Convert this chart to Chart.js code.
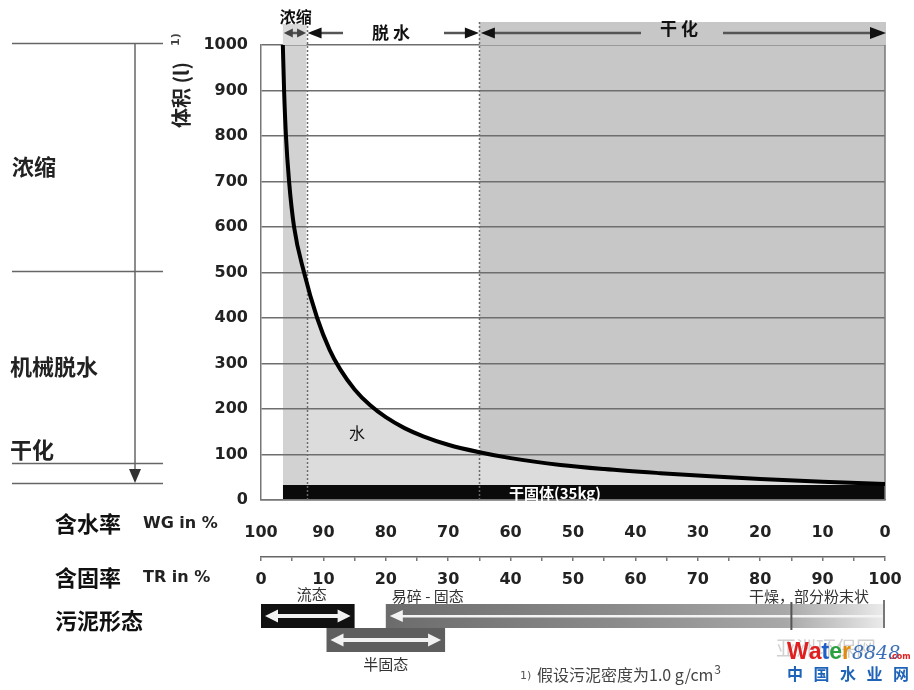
<!DOCTYPE html>
<html lang="zh">
<head>
<meta charset="utf-8">
<title>污泥体积与含水率</title>
<script src="https://cdn.jsdelivr.net/npm/chart.js@4.4.0/dist/chart.umd.min.js"></script>
<style>
  html, body { margin: 0; padding: 0; background: #fff; }
  #wrap { width: 914px; height: 690px; }
</style>
</head>
<body>
<div id="wrap"><canvas id="chart" width="914" height="690"></canvas></div>
<script>
// 含水率 WG(%) 与对应体积 (l)
const wgValues = [96.5, 96.3, 96.0, 95.5, 94.7, 93.1, 91, 89, 87.3, 85, 82.5, 80, 77, 74, 70, 65, 60, 52, 45, 36, 28, 20, 10, 0];
const volumes  = [1000, 900, 800, 700, 600, 500, 400, 330, 287, 243, 208, 182, 158, 140, 121.5, 105, 92, 77, 68, 59, 52, 46, 40, 35];

// 干固体
const solidsLabel = '干固体(35kg)';
const solidsFrom = 96.5, solidsTo = 0, solidsVolume = 33;

// 处理阶段 (WG %)
const stageNames = ['浓缩', '脱 水', '干 化'];
const stageFrom  = [96.5, 92.7, 65];
const stageTo    = [92.7, 65, 0];

// 左侧工艺
const processNames = ['浓缩', '机械脱水', '干化'];
const processMarks = [1000, 500, 77, 33];

// 坐标刻度
const wgTicks = [100, 90, 80, 70, 60, 50, 40, 30, 20, 10, 0];
const trTicks = [0, 10, 20, 30, 40, 50, 60, 70, 80, 90, 100];

// 污泥形态 (TR %)
const stateNames = ['流态', '半固态', '易碎 - 固态', '干燥，部分粉末状'];
const stateFrom  = [0, 10.5, 20, 85];
const stateTo    = [15, 29.5, 100, 100];

const CJK = '"Noto Sans CJK SC", "Noto Sans", sans-serif';
const NUM = '"DejaVu Sans", "Liberation Sans", sans-serif';

function txt(ctx, s, x, y, font, color, align, base) {
  ctx.font = font;
  ctx.fillStyle = color;
  ctx.textAlign = align || 'center';
  ctx.textBaseline = base || 'middle';
  ctx.fillText(s, x, y);
}

// dir: -1 左, 1 右, 2 下
function head(ctx, tx, ty, dir, len, half) {
  ctx.beginPath();
  if (dir === 2) {
    ctx.moveTo(tx, ty); ctx.lineTo(tx - half, ty - len); ctx.lineTo(tx + half, ty - len);
  } else {
    ctx.moveTo(tx, ty); ctx.lineTo(tx - dir * len, ty - half); ctx.lineTo(tx - dir * len, ty + half);
  }
  ctx.closePath();
  ctx.fill();
}

function hline(ctx, x1, x2, y) {
  ctx.beginPath(); ctx.moveTo(x1, y); ctx.lineTo(x2, y); ctx.stroke();
}

const decor = {
  id: 'decor',
  beforeDatasetsDraw(chart) {
    const {ctx, chartArea: a, scales: {x}} = chart;
    ctx.save();
    // 顶部阶段底色
    const x0 = x.getPixelForValue(stageFrom[0]), x1 = x.getPixelForValue(stageTo[0]);
    ctx.fillStyle = '#dadada';
    ctx.fillRect(x0, 24, x1 - x0, a.top - 24);
    const x2 = x.getPixelForValue(stageFrom[2]), x3 = x.getPixelForValue(stageTo[2]);
    ctx.fillStyle = '#c7c7c7';
    ctx.fillRect(x2, 22, x3 - x2 + 1, a.top - 22);
    // 阶段分隔虚线
    ctx.strokeStyle = '#6a6a6a';
    ctx.lineWidth = 1.5;
    ctx.setLineDash([2, 2]);
    [stageTo[0], stageTo[1]].forEach(v => {
      const px = Math.round(x.getPixelForValue(v)) + 0.5;
      ctx.beginPath(); ctx.moveTo(px, 22); ctx.lineTo(px, a.bottom); ctx.stroke();
    });
    ctx.setLineDash([]);
    // 右边框
    ctx.strokeStyle = '#777';
    ctx.beginPath(); ctx.moveTo(a.right, a.top); ctx.lineTo(a.right, a.bottom); ctx.stroke();
    ctx.restore();
  },
  afterDraw(chart) {
    const {ctx, scales: {x, y, x2}} = chart;
    ctx.save();

    // 图内文字
    txt(ctx, '水', x.getPixelForValue(84.6), y.getPixelForValue(147), '16px ' + CJK, '#111');
    txt(ctx, solidsLabel, 555, y.getPixelForValue(solidsVolume / 2) + 1, 'bold 15px ' + CJK, '#fff');

    // 顶部阶段箭头
    ctx.fillStyle = '#444';
    ctx.strokeStyle = '#555';
    ctx.lineWidth = 2.5;
    const hy = 33;
    const p0 = x.getPixelForValue(stageFrom[0]), p1 = x.getPixelForValue(stageTo[0]);
    const p2 = x.getPixelForValue(stageTo[1]), p3 = x.getPixelForValue(stageTo[2]) + 1;
    // 浓缩
    hline(ctx, p0 + 4, p1 - 4, hy);
    head(ctx, p0 + 1, hy, -1, 9, 4.5);
    head(ctx, p1 - 0.5, hy, 1, 9, 4.5);
    txt(ctx, stageNames[0], (p0 + p1) / 2 + 1, 17, 'bold 16px ' + CJK, '#111');
    // 脱水
    const m1 = (p1 + p2) / 2 - 2;
    hline(ctx, p1 + 8, m1 - 48, hy);
    hline(ctx, m1 + 53, p2 - 8, hy);
    head(ctx, p1 + 1, hy, -1, 14, 5.5);
    head(ctx, p2 - 0.5, hy, 1, 14, 5.5);
    txt(ctx, stageNames[1], m1, hy, 'bold 17px ' + CJK, '#111');
    // 干化
    const m2 = 679;
    hline(ctx, p2 + 8, m2 - 38, hy);
    hline(ctx, m2 + 44, p3 - 8, hy);
    head(ctx, p2 + 1.5, hy, -1, 14, 5.5);
    head(ctx, p3, hy, 1, 16, 6);
    txt(ctx, stageNames[2], m2, 29, 'bold 17px ' + CJK, '#111');

    // 体积轴标题
    ctx.save();
    ctx.translate(181, 128);
    ctx.rotate(-Math.PI / 2);
    txt(ctx, '体积 (l)', 0, 0, 'bold 20px ' + CJK, '#222', 'left');
    txt(ctx, '1)', 82, -5, 'bold 11px ' + NUM, '#444', 'left');
    ctx.restore();

    // 左侧工艺区间
    ctx.strokeStyle = '#666';
    ctx.lineWidth = 1.5;
    processMarks.forEach(v => hline(ctx, 12, 163, Math.round(y.getPixelForValue(v)) - 1.5));
    const ay0 = y.getPixelForValue(processMarks[0]) - 2, ay1 = y.getPixelForValue(processMarks[3]) - 2;
    ctx.beginPath(); ctx.moveTo(135, ay0); ctx.lineTo(135, ay1 - 10); ctx.stroke();
    ctx.fillStyle = '#333';
    head(ctx, 135, ay1, 2, 14, 6);
    txt(ctx, processNames[0], 12, 167, 'bold 22px ' + CJK, '#222', 'left');
    txt(ctx, processNames[1], 10, 367, 'bold 22px ' + CJK, '#222', 'left');
    txt(ctx, processNames[2], 10, 450, 'bold 22px ' + CJK, '#222', 'left');

    // 轴名称
    txt(ctx, '含水率', 55, 524, 'bold 22px ' + CJK, '#111', 'left');
    txt(ctx, 'WG in %', 143, 524, 'bold 16px ' + NUM, '#222', 'left');
    txt(ctx, '含固率', 55, 578, 'bold 22px ' + CJK, '#111', 'left');
    txt(ctx, 'TR in %', 143, 578, 'bold 16px ' + NUM, '#222', 'left');
    txt(ctx, '污泥形态', 55, 621, 'bold 22px ' + CJK, '#111', 'left');

    // 污泥形态条
    const sx = i => [x2.getPixelForValue(stateFrom[i]), x2.getPixelForValue(stateTo[i])];
    const rowTop = [604, 628, 604, 604], rowH = 24;
    // 易碎 - 固态 渐变条
    const [g0, g1] = sx(2);
    const grad = ctx.createLinearGradient(g0, 0, g1, 0);
    grad.addColorStop(0, '#6c6c6c');
    grad.addColorStop(0.45, '#8a8a8a');
    grad.addColorStop(0.8, '#a8a8a8');
    grad.addColorStop(0.9, '#c8c8c8');
    grad.addColorStop(1, '#ececec');
    ctx.fillStyle = grad;
    ctx.fillRect(g0, rowTop[2], g1 - g0, rowH);
    ctx.fillStyle = '#f4f4f4';
    ctx.fillRect(g0 + 14, rowTop[2] + 11, g1 - g0 - 16, 2.5);
    head(ctx, g0 + 4, rowTop[2] + 12, -1, 13, 6);
    // 干燥分隔
    const [d0, d1] = sx(3);
    ctx.strokeStyle = '#555';
    ctx.lineWidth = 2;
    ctx.beginPath(); ctx.moveTo(d0, 602); ctx.lineTo(d0, 630); ctx.stroke();
    ctx.strokeStyle = '#777';
    ctx.beginPath(); ctx.moveTo(d1 - 1, 600); ctx.lineTo(d1 - 1, 628); ctx.stroke();
    // 半固态
    const [h0, h1] = sx(1);
    ctx.fillStyle = '#5e5e5e';
    ctx.fillRect(h0, rowTop[1], h1 - h0, rowH);
    // 流态
    const [f0, f1] = sx(0);
    ctx.fillStyle = '#111';
    ctx.fillRect(f0, rowTop[0], f1 - f0, rowH);
    // 白色双向箭头
    ctx.fillStyle = '#f2f2f2';
    [[f0, f1, rowTop[0]], [h0, h1, rowTop[1]]].forEach(([l, r, t]) => {
      const cy = t + 12;
      ctx.fillRect(l + 14, cy - 2, r - l - 28, 4);
      head(ctx, l + 4, cy, -1, 13, 6.5);
      head(ctx, r - 4, cy, 1, 13, 6.5);
    });
    txt(ctx, stateNames[0], (f0 + f1) / 2 + 4, 594, '15px ' + CJK, '#333');
    txt(ctx, stateNames[1], (h0 + h1) / 2, 664, '15px ' + CJK, '#333');
    txt(ctx, stateNames[2], g0 + 6, 596, '15px ' + CJK, '#333', 'left');
    txt(ctx, stateNames[3], 809, 596, '15px ' + CJK, '#333');

    // 脚注
    txt(ctx, '1)', 520, 676, '11px ' + NUM, '#555', 'left');
    txt(ctx, '假设污泥密度为1.0 g/cm', 537, 675, '16px ' + CJK, '#444', 'left');
    ctx.font = '16px ' + CJK;
    const fw = ctx.measureText('假设污泥密度为1.0 g/cm').width;
    txt(ctx, '3', 537 + fw + 1, 669, '12px ' + CJK, '#444', 'left');

    // 水印
    txt(ctx, '亚洲环保网', 776, 648, '20px ' + CJK, 'rgba(150,150,150,0.45)', 'left');
    const wcol = ['#e02020', '#e02020', '#1e5fc8', '#2aa040', '#e08a10'];
    let wx = 787;
    ctx.font = 'bold 23px "Liberation Sans", sans-serif';
    'Water'.split('').forEach((c, i) => {
      txt(ctx, c, wx, 653, 'bold 23px "Liberation Sans", sans-serif', wcol[i], 'left');
      wx += ctx.measureText(c).width;
    });
    txt(ctx, '8848', wx + 1, 654, 'italic 19px "DejaVu Serif", serif', '#3b6fb6', 'left');
    txt(ctx, '.com', 889, 657, 'bold 8px ' + NUM, '#e02020', 'left');
    ctx.font = 'bold 16px ' + CJK;
    ctx.fillStyle = '#1f63b8';
    ctx.textAlign = 'center';
    '中国水业网'.split('').forEach((c, i) => ctx.fillText(c, 795 + i * 26.5, 674));

    ctx.restore();
  }
};

const curvePoints = wgValues.map((v, i) => ({x: v, y: volumes[i]}));
const band = k => [{x: stageFrom[k], y: 1000}, {x: stageTo[k], y: 1000}];

new Chart(document.getElementById('chart'), {
  type: 'line',
  data: {
    datasets: [
      {
        label: solidsLabel,
        data: [{x: solidsFrom, y: solidsVolume}, {x: solidsTo, y: solidsVolume}],
        borderWidth: 0,
        pointRadius: 0,
        fill: 'origin',
        backgroundColor: '#0a0a0a',
        order: 0
      },
      {
        label: stageNames[0],
        data: band(0),
        borderWidth: 0,
        pointRadius: 0,
        fill: 'origin',
        backgroundColor: '#d2d2d2',
        order: 1
      },
      {
        label: '体积',
        data: curvePoints,
        borderColor: '#000',
        borderWidth: 4,
        pointRadius: 0,
        cubicInterpolationMode: 'monotone',
        fill: 'origin',
        backgroundColor: '#dcdcdc',
        order: 2
      },
      {
        label: stageNames[2],
        data: band(2),
        borderWidth: 0,
        pointRadius: 0,
        fill: 'origin',
        backgroundColor: '#c7c7c7',
        order: 3
      }
    ]
  },
  options: {
    responsive: false,
    animation: false,
    events: [],
    layout: { padding: { top: 45, right: 29, bottom: 100, left: 0 } },
    plugins: {
      legend: { display: false },
      tooltip: { enabled: false },
      filler: { drawTime: 'beforeDraw' }
    },
    scales: {
      x: {
        type: 'linear',
        position: 'bottom',
        min: 0,
        max: 100,
        reverse: true,
        afterBuildTicks: s => { s.ticks = wgTicks.map(v => ({value: v})); },
        ticks: { autoSkip: false, maxRotation: 0, padding: 15, color: '#222', font: { family: NUM, size: 16, weight: 'bold' } },
        grid: { display: false },
        border: { display: true, color: '#777', width: 1.5 },
        afterFit: s => { s.height = 57; }
      },
      x2: {
        type: 'linear',
        position: 'bottom',
        min: 0,
        max: 100,
        afterBuildTicks: s => {
          const t = [];
          trTicks.forEach((v, i) => { t.push({value: v}); if (i < trTicks.length - 1) t.push({value: (v + trTicks[i + 1]) / 2}); });
          s.ticks = t;
        },
        ticks: {
          autoSkip: false, maxRotation: 0, padding: 9, color: '#222',
          font: { family: NUM, size: 16, weight: 'bold' },
          callback: v => trTicks.includes(v) ? String(v) : ''
        },
        grid: { drawOnChartArea: false, drawTicks: true, tickLength: 4, color: '#777', lineWidth: 1.5 },
        border: { display: true, color: '#666', width: 1.5 },
        afterFit: s => { s.height = 33; }
      },
      y: {
        min: 0,
        max: 1000,
        ticks: { stepSize: 100, padding: 13, color: '#222', font: { family: NUM, size: 16, weight: 'bold' }, callback: v => String(v) },
        grid: { color: '#6e6e6e', lineWidth: 1.5, drawTicks: false },
        border: { display: true, color: '#777', width: 1.5 },
        afterFit: s => { s.width = 261; }
      }
    }
  },
  plugins: [decor]
});
</script>
</body>
</html>
